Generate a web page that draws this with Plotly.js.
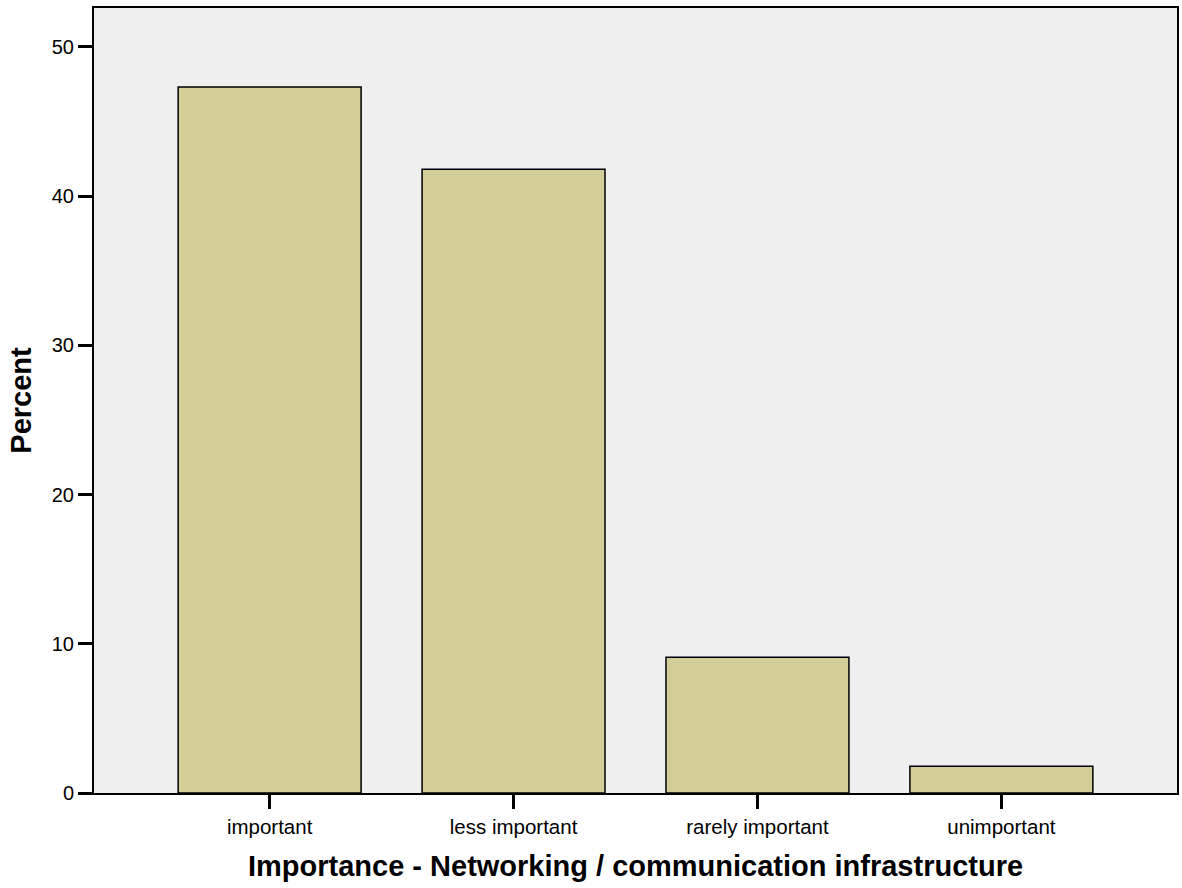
<!DOCTYPE html>
<html>
<head>
<meta charset="utf-8">
<script src="https://cdn.plot.ly/plotly-3.0.1.min.js"></script>
<style>html,body{margin:0;padding:0;background:#fff;}#chart{width:1182px;height:888px;}</style>
</head>
<body>
<div id="chart"></div>
<script>
var categories = ["important", "less important", "rarely important", "unimportant"];
var percentValues = [47.3, 41.8, 9.1, 1.8];
var yTickValues = [0, 10, 20, 30, 40, 50];
var xTitleText = "Importance - Networking / communication infrastructure";
var yTitleText = "Percent";

var trace = {
  type: "bar",
  x: categories,
  y: percentValues,
  width: 0.75,
  marker: {color: "#d3ce98", line: {color: "#000000", width: 1.5}},
  hoverinfo: "x+y"
};

var layout = {
  width: 1182, height: 888,
  margin: {l: 94, r: 5, t: 8, b: 95},
  paper_bgcolor: "#ffffff",
  plot_bgcolor: "#efefef",
  font: {family: "Liberation Sans, Arial, sans-serif", color: "#000"},
  showlegend: false,
  xaxis: {
    type: "category",
    range: [-0.72, 3.72],
    showline: true, mirror: true, linecolor: "#000", linewidth: 2,
    ticks: "outside", ticklen: 14, tickwidth: 3, tickcolor: "#000",
    tickfont: {size: 20.5},
    showgrid: false, zeroline: false
  },
  yaxis: {
    range: [0, 52.6],
    tickvals: yTickValues,
    showline: true, mirror: true, linecolor: "#000", linewidth: 2,
    ticks: "outside", ticklen: 14, tickwidth: 3, tickcolor: "#000",
    tickfont: {size: 20},
    showgrid: false, zeroline: false,
    title: {text: yTitleText, font: {size: 29, weight: "bold"}, standoff: 12}
  },
  annotations: [{
    text: "<b>" + xTitleText + "</b>",
    xref: "paper", yref: "paper",
    x: 0.5, y: (793 - 866) / 785,
    xanchor: "center", yanchor: "middle",
    showarrow: false,
    font: {size: 29}
  }]
};

Plotly.newPlot("chart", [trace], layout, {displayModeBar: false});
</script>
</body>
</html>
